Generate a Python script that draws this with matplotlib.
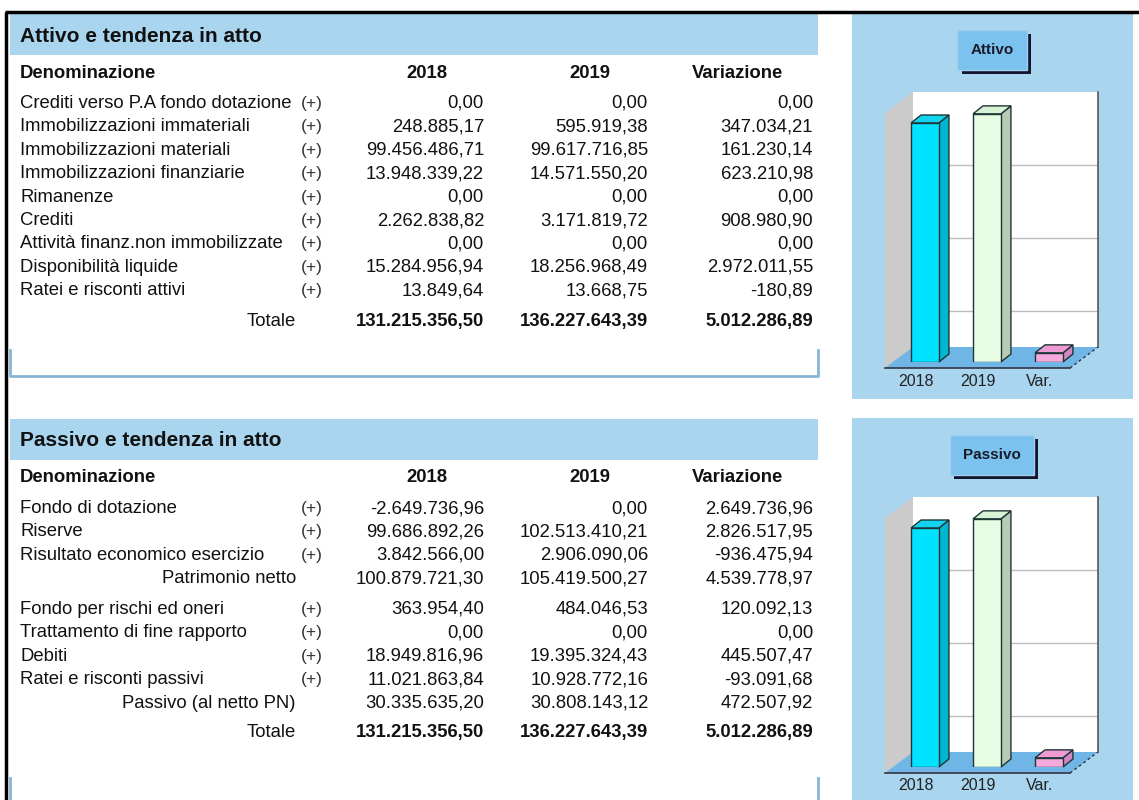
import matplotlib
matplotlib.use('Agg')
import matplotlib.pyplot as plt
from matplotlib.patches import Rectangle, Polygon
from matplotlib.transforms import IdentityTransform, offset_copy
import matplotlib.patheffects as pe
import numpy as np

plt.rcParams['font.family'] = ['Liberation Sans', 'DejaVu Sans']

# ---- data ----
att_labels = ['Crediti verso P.A fondo dotazione', 'Immobilizzazioni immateriali',
              'Immobilizzazioni materiali', 'Immobilizzazioni finanziarie', 'Rimanenze',
              'Crediti', 'Attività finanz.non immobilizzate', 'Disponibilità liquide',
              'Ratei e risconti attivi']
att_2018 = [0.00, 248885.17, 99456486.71, 13948339.22, 0.00, 2262838.82, 0.00, 15284956.94, 13849.64]
att_2019 = [0.00, 595919.38, 99617716.85, 14571550.20, 0.00, 3171819.72, 0.00, 18256968.49, 13668.75]
att_var = [0.00, 347034.21, 161230.14, 623210.98, 0.00, 908980.90, 0.00, 2972011.55, -180.89]
att_tot = [131215356.50, 136227643.39, 5012286.89]

pn_labels = ['Fondo di dotazione', 'Riserve', 'Risultato economico esercizio']
pn_2018 = [-2649736.96, 99686892.26, 3842566.00]
pn_2019 = [0.00, 102513410.21, 2906090.06]
pn_var = [2649736.96, 2826517.95, -936475.94]
pn_sub = [100879721.30, 105419500.27, 4539778.97]

deb_labels = ['Fondo per rischi ed oneri', 'Trattamento di fine rapporto', 'Debiti',
              'Ratei e risconti passivi']
deb_2018 = [363954.40, 0.00, 18949816.96, 11021863.84]
deb_2019 = [484046.53, 0.00, 19395324.43, 10928772.16]
deb_var = [120092.13, 0.00, 445507.47, -93091.68]
deb_sub = [30335635.20, 30808143.12, 472507.92]
pas_tot = [131215356.50, 136227643.39, 5012286.89]

cats = ['2018', '2019', 'Var.']
headers = ['2018', '2019', 'Variazione']

# ---- figure ----
W, H = 1139, 800
fig = plt.figure(figsize=(W / 100, H / 100), dpi=100)
bg = fig.add_axes([0, 0, 1, 1])
bg.set_xlim(0, W)
bg.set_ylim(H, 0)
bg.axis('off')

BLUE = '#a9d5ef'
LINE = '#86b6d6'
FS = 13.3
col_right = [484, 648, 813]
head_x = [427, 590, 737]


def fmt(v):
    s = f"{v:,.2f}"
    return s.replace(',', 'X').replace('.', ',').replace('X', '.')


def row(y, label, vals, plus=True, sub=False, bold=False):
    y = y + 1.5
    if sub:
        bg.text(296, y, label, ha='right', va='center', fontsize=FS, color='#111')
    else:
        bg.text(20, y, label, ha='left', va='center', fontsize=FS, color='#111')
    if plus:
        bg.text(301, y, '(+)', ha='left', va='center', fontsize=12.5, color='#333')
    for xr, v in zip(col_right, vals):
        bg.text(xr, y, fmt(v), ha='right', va='center', fontsize=FS, color='#111',
                fontweight='bold' if bold else 'normal')


def table_head(top, title):
    bg.add_patch(Rectangle((10, top), 808, 41, color=BLUE, lw=0))
    bg.text(20, top + 22, title, ha='left', va='center', fontsize=15, fontweight='bold', color='#111')
    bg.text(20, top + 59, 'Denominazione', ha='left', va='center', fontsize=FS, fontweight='bold', color='#111')
    for hx, h in zip(head_x, headers):
        bg.text(hx, top + 59, h, ha='center', va='center', fontsize=FS, fontweight='bold', color='#111')


STEP = 23.4

# black frame
bg.plot([5, W], [12, 12], color='black', lw=2.5, solid_capstyle='butt')
bg.plot([6, 6], [12, H], color='black', lw=2.5, solid_capstyle='butt')

# Attivo table
table_head(14, 'Attivo e tendenza in atto')
for i, lab in enumerate(att_labels):
    row(102 + STEP * i, lab, [att_2018[i], att_2019[i], att_var[i]])
row(320, 'Totale', att_tot, plus=False, sub=True, bold=True)
bg.plot([10, 10, 818, 818], [350, 376, 376, 350], color=LINE, lw=2)

# Passivo table
table_head(419, 'Passivo e tendenza in atto')
for i, lab in enumerate(pn_labels):
    row(507 + STEP * i, lab, [pn_2018[i], pn_2019[i], pn_var[i]])
row(507 + STEP * 3, 'Patrimonio netto', pn_sub, plus=False, sub=True)
for i, lab in enumerate(deb_labels):
    row(608 + STEP * i, lab, [deb_2018[i], deb_2019[i], deb_var[i]])
row(608 + STEP * 4, 'Passivo (al netto PN)', deb_sub, plus=False, sub=True)
row(731, 'Totale', pas_tot, plus=False, sub=True, bold=True)
bg.plot([10, 10], [778, H], color=LINE, lw=2)
bg.plot([818, 818], [778, H], color=LINE, lw=2)

# right panels
bg.add_patch(Rectangle((852, 14), 281, 385, color=BLUE, lw=0))
bg.add_patch(Rectangle((852, 418), 281, 382, color=BLUE, lw=0))

front_c = ['#00e2ff', '#e6fde4', '#f5a9dc']
side_c = ['#00b6d0', '#b9cbb4', '#d486c2']
top_c = ['#12d4f0', '#d8f2d6', '#f09ad4']


def chart(base_y, vals, title):
    # base_y: pixel row (from top) of bar bottoms
    ax = fig.add_axes([893 / W, 1 - base_y / H, 185 / W, 255 / H])
    ax.set_xlim(-0.516, 2.468)
    ax.set_ylim(0, 140e6)
    ax.axis('off')
    xl, xr = ax.get_xlim()
    top = ax.get_ylim()[1]
    T = ax.transData
    ident = IdentityTransform()

    def P(x, y, off=(0, 0)):
        p = T.transform((x, y))
        return (p[0] + off[0], p[1] + off[1])

    fr, bk = (-8, -6), (20, 15)
    # left wall
    ax.add_patch(Polygon([P(xl, 0, fr), P(xl, top, fr), P(xl, top, bk), P(xl, 0, bk)],
                         closed=True, transform=ident, fc='#cbcbcb', ec='none', zorder=1, clip_on=False))
    # back wall
    ax.add_patch(Polygon([P(xl, 0, bk), P(xr, 0, bk), P(xr, top, bk), P(xl, top, bk)],
                         closed=True, transform=ident, fc='white', ec='none', zorder=1, clip_on=False))
    for g in [20e6, 60e6, 100e6]:
        a, b = P(xl, g, bk), P(xr, g, bk)
        ax.add_line(plt.Line2D([a[0], b[0]], [a[1], b[1]], transform=ident, color='#bdbdbd',
                               lw=1, zorder=1.5, clip_on=False))
    a, b = P(xr, 0, bk), P(xr, top, bk)
    ax.add_line(plt.Line2D([a[0], b[0]], [a[1], b[1]], transform=ident, color='#555555',
                           lw=1.2, zorder=1.5, clip_on=False))
    # floor
    ax.add_patch(Polygon([P(xl, 0, fr), P(xr, 0, fr), P(xr, 0, bk), P(xl, 0, bk)],
                         closed=True, transform=ident, fc='#6fb6e6', ec='none', zorder=2, clip_on=False))
    a, b = P(xl, 0, fr), P(xr, 0, fr)
    ax.add_line(plt.Line2D([a[0], b[0]], [a[1], b[1]], transform=ident, color='#333344',
                           lw=1.2, zorder=2.5, clip_on=False))
    a, b = P(xr, 0, fr), P(xr, 0, bk)
    ax.add_line(plt.Line2D([a[0], b[0]], [a[1], b[1]], transform=ident, color='#333344',
                           lw=1, ls=(0, (2, 2)), zorder=2.5, clip_on=False))

    xs = np.arange(len(vals))
    w = 0.45
    d = (10, 8)
    ax.bar(xs, vals, width=w, color=front_c, edgecolor='#1d3535', linewidth=1, zorder=4)
    for x, v, sc, tc in zip(xs, vals, side_c, top_c):
        ax.add_patch(Polygon([P(x + w / 2, 0), P(x + w / 2, v), P(x + w / 2, v, d), P(x + w / 2, 0, d)],
                             closed=True, transform=ident, fc=sc, ec='#1d3535', lw=1, zorder=3, clip_on=False))
        ax.add_patch(Polygon([P(x - w / 2, v), P(x + w / 2, v), P(x + w / 2, v, d), P(x - w / 2, v, d)],
                             closed=True, transform=ident, fc=tc, ec='#1d3535', lw=1, zorder=3, clip_on=False))
    lab_tr = offset_copy(T, fig=fig, x=-9, y=-19, units='dots')
    for x, c in zip(xs, cats):
        ax.text(x, 0, c, transform=lab_tr, ha='center', va='center', fontsize=11.5, color='#222')

    # title button
    t = fig.text(992 / W, 1 - (base_y - 312) / H, title, ha='center', va='center', fontsize=11,
                 fontweight='bold', color='#1a1a2a',
                 bbox=dict(boxstyle='square,pad=0.85', fc='#7cc2ee', ec='#9fd0f0', lw=1))
    t.get_bbox_patch().set_path_effects([pe.SimplePatchShadow(offset=(3, -3), shadow_rgbFace='#151530', alpha=1),
                                         pe.Normal()])
    return ax


chart(362, att_tot, 'Attivo')
chart(767, pas_tot, 'Passivo')

fig.savefig('out.png', dpi=100)
